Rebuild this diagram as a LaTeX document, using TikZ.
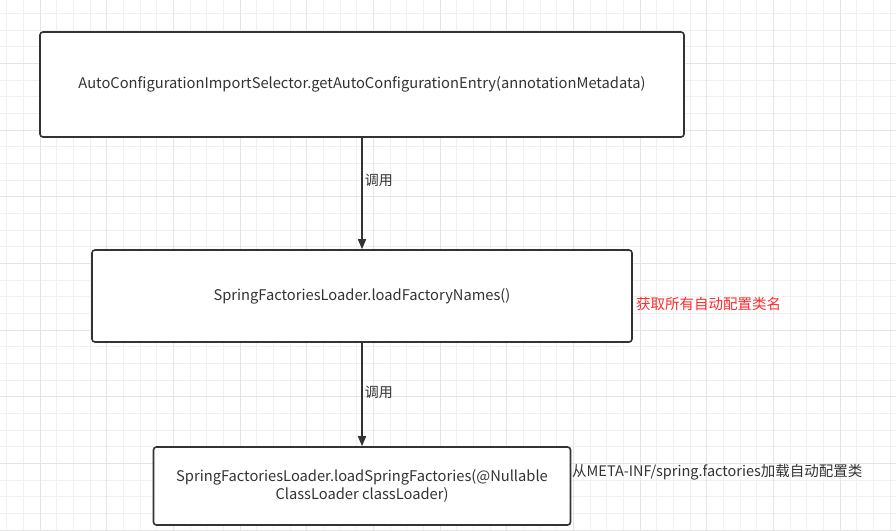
\documentclass[tikz,border=0pt]{standalone}
\usepackage{fontspec}
\setmainfont{Noto Sans CJK SC}
\usetikzlibrary{arrows.meta,positioning}
\definecolor{BoxLine}{HTML}{333333}
\definecolor{TextGray}{HTML}{333333}
\definecolor{NoteRed}{HTML}{FF2A2A}
\definecolor{GridMinor}{HTML}{F0F0F0}
\definecolor{GridMajor}{HTML}{E4E4E4}

\begin{document}
\begin{tikzpicture}[x=1pt, y=-1pt, >={Triangle[length=10pt,width=8pt]},
    callbox/.style={draw=BoxLine, line width=1.6pt, rounded corners=3pt, fill=white,
        text=TextGray, font=\fontsize{14.7}{17.5}\selectfont, align=center, inner sep=0pt},
    calllabel/.style={text=TextGray, font=\fontsize{14}{16}\selectfont, right, inner sep=2pt},
    note/.style={font=\fontsize{14.5}{17}\selectfont, right, inner sep=0pt}]
    % Background and grid
    \useasboundingbox (0,0) rectangle (896,530);
    \fill[white] (0,0) rectangle (896,530);
    \foreach \i in {0,...,53} {
        \draw[GridMinor, line width=0.8pt] ({6.67+16.667*\i},0) -- ({6.67+16.667*\i},530);
    }
    \foreach \j in {0,...,31} {
        \draw[GridMinor, line width=0.8pt] (0,{13.33+16.667*\j}) -- (896,{13.33+16.667*\j});
    }
    \foreach \i in {0,...,13} {
        \draw[GridMajor, line width=0.8pt] ({40+66.667*\i},0) -- ({40+66.667*\i},530);
    }
    \foreach \j in {0,...,7} {
        \draw[GridMajor, line width=0.8pt] (0,{63.33+66.667*\j}) -- (896,{63.33+66.667*\j});
    }

    % Call chain
    \node[callbox, minimum width=644pt, minimum height=105pt] (selector) at (362,84.5)
        {AutoConfigurationImportSelector.getAutoConfigurationEntry(annotationMetadata)};
    \node[callbox, minimum width=540pt, minimum height=92pt] (names) at (362,296)
        {SpringFactoriesLoader.loadFactoryNames()};
    \node[callbox, minimum width=417pt, minimum height=78pt] (factories) at (362,486)
        {SpringFactoriesLoader.loadSpringFactories(@Nullable\\ClassLoader classLoader)};

    % Arrows
    \draw[->, BoxLine, line width=1.6pt] (selector.south) -- node[calllabel, pos=0.38] {调用} (names.north);
    \draw[->, BoxLine, line width=1.6pt] (names.south) -- node[calllabel, pos=0.48] {调用} (factories.north);

    % Notes
    \node[note, NoteRed] (namesnote) at (636,304) {获取所有自动配置类名};
    \node[note, TextGray] (loadnote) at (572,472) {从META-INF/spring.factories加载自动配置类};
\end{tikzpicture}
\end{document}
